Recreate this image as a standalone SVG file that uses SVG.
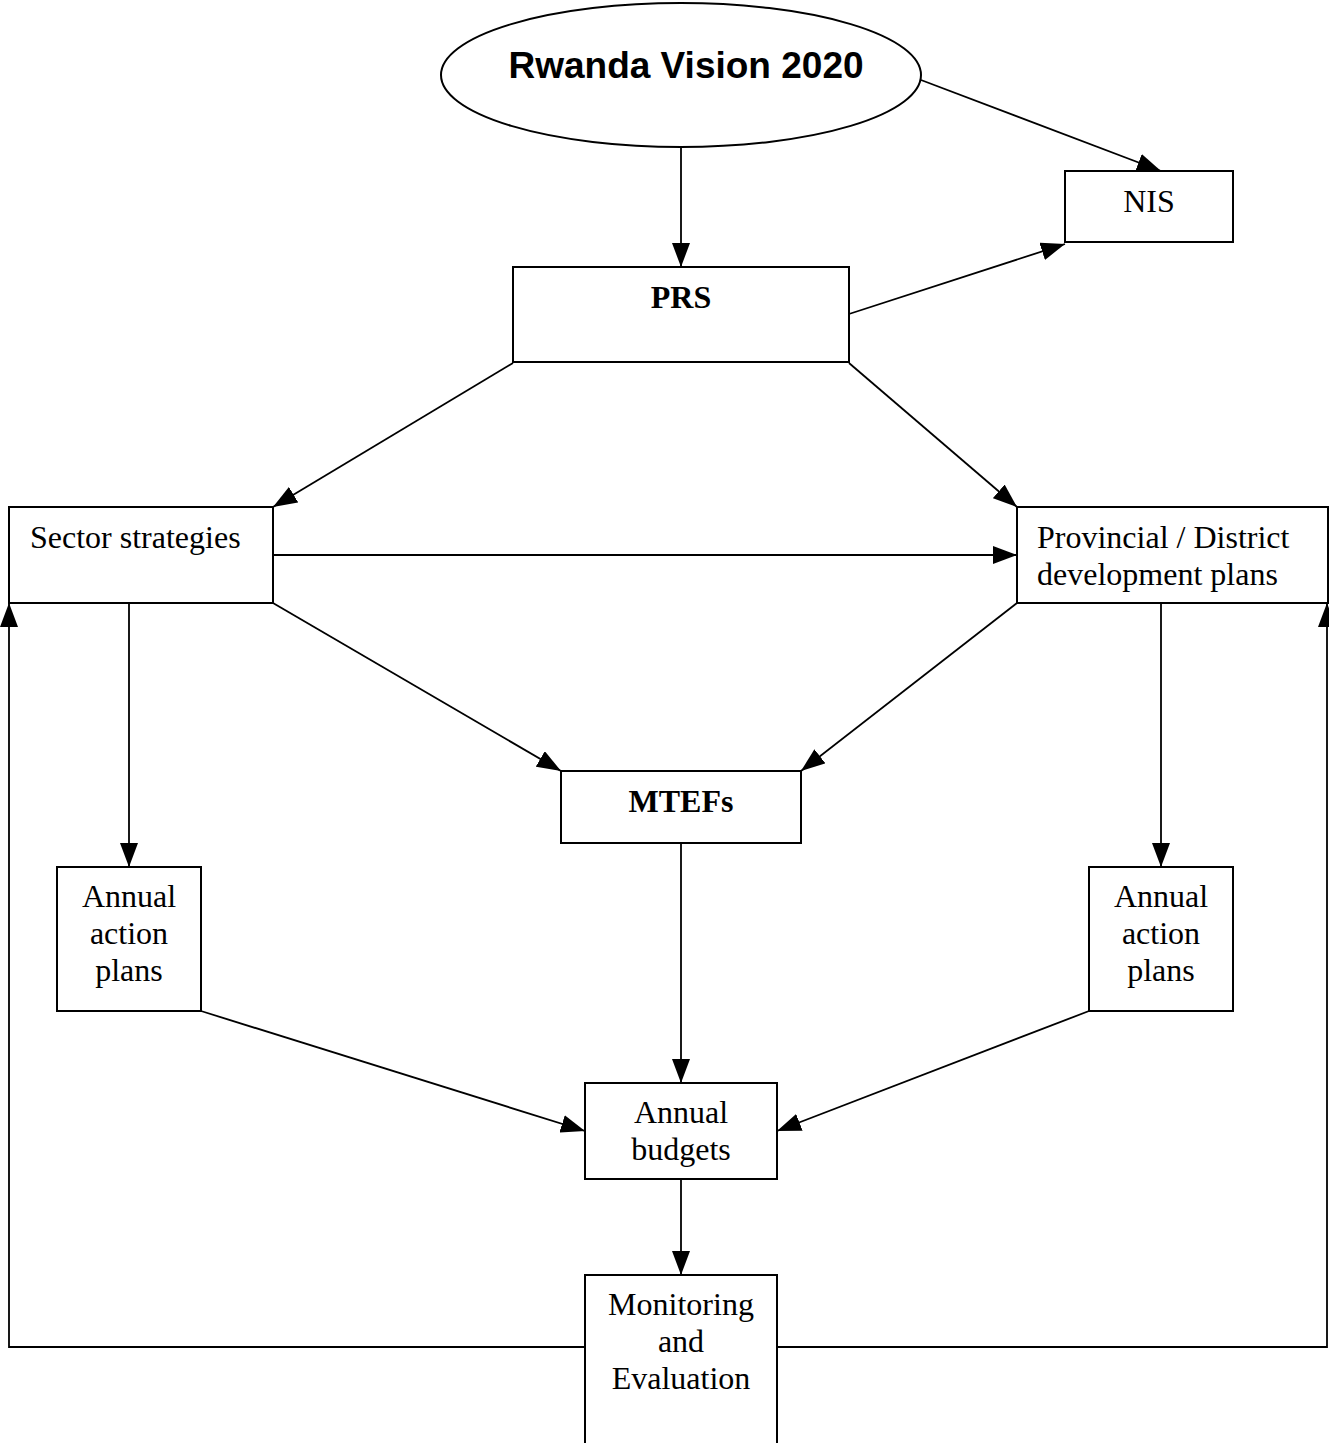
<svg xmlns="http://www.w3.org/2000/svg" width="1329" height="1443" viewBox="0 0 1329 1443">
<style>
.box{fill:#fff;stroke:#000;stroke-width:2}
.t{font-family:"Liberation Serif","Times New Roman",serif;font-size:32px;fill:#000}
.c{text-anchor:middle}
.b{font-weight:bold}
.h{font-family:"Liberation Sans",Arial,sans-serif;font-size:37px;font-weight:bold;text-anchor:middle;fill:#000}
.ln{fill:none;stroke:#000;stroke-width:1.8}
</style>
<defs>
<marker id="ah" viewBox="0 0 24 18" refX="24" refY="9" markerWidth="24" markerHeight="18" markerUnits="userSpaceOnUse" orient="auto">
<path d="M0,0 L24,9 L0,18 Z" fill="#000"/>
</marker>
</defs>
<rect width="1329" height="1443" fill="#fff"/>
<g id="connectors">
<line class="ln" x1="681" y1="147" x2="681" y2="267" marker-end="url(#ah)"/>
<line class="ln" x1="921" y1="80" x2="1161" y2="171" marker-end="url(#ah)"/>
<line class="ln" x1="849" y1="314" x2="1065" y2="244" marker-end="url(#ah)"/>
<line class="ln" x1="513" y1="363" x2="273" y2="507" marker-end="url(#ah)"/>
<line class="ln" x1="849" y1="363" x2="1017" y2="507" marker-end="url(#ah)"/>
<line class="ln" x1="273" y1="555" x2="1017" y2="555" marker-end="url(#ah)"/>
<line class="ln" x1="273" y1="603" x2="561" y2="771" marker-end="url(#ah)"/>
<line class="ln" x1="1017" y1="603" x2="801" y2="771" marker-end="url(#ah)"/>
<line class="ln" x1="129" y1="603" x2="129" y2="867" marker-end="url(#ah)"/>
<line class="ln" x1="1161" y1="603" x2="1161" y2="867" marker-end="url(#ah)"/>
<line class="ln" x1="681" y1="843" x2="681" y2="1083" marker-end="url(#ah)"/>
<line class="ln" x1="201" y1="1011" x2="585" y2="1131" marker-end="url(#ah)"/>
<line class="ln" x1="1089" y1="1011" x2="777" y2="1131" marker-end="url(#ah)"/>
<line class="ln" x1="681" y1="1179" x2="681" y2="1275" marker-end="url(#ah)"/>
<polyline class="ln" points="585,1347 9,1347 9,603" marker-end="url(#ah)"/>
<polyline class="ln" points="777,1347 1327,1347 1327,603" marker-end="url(#ah)"/>
</g>
<g id="vision">
<ellipse class="box" cx="681" cy="75" rx="240" ry="72"/>
<text class="h" x="686" y="78">Rwanda Vision 2020</text>
</g>
<g id="nis">
<rect class="box" x="1065" y="171" width="168" height="71"/>
<text class="t c" x="1149" y="212">NIS</text>
</g>
<g id="prs">
<rect class="box" x="513" y="267" width="336" height="95"/>
<text class="t c b" x="681" y="308">PRS</text>
</g>
<g id="sector">
<rect class="box" x="9" y="507" width="264" height="96"/>
<text class="t" x="30" y="548">Sector strategies</text>
</g>
<g id="provincial">
<rect class="box" x="1017" y="507" width="311" height="96"/>
<text class="t" x="1037" y="548">Provincial / District</text>
<text class="t" x="1037" y="585">development plans</text>
</g>
<g id="mtefs">
<rect class="box" x="561" y="771" width="240" height="72"/>
<text class="t c b" x="681" y="812">MTEFs</text>
</g>
<g id="aap-left">
<rect class="box" x="57" y="867" width="144" height="144"/>
<text class="t c" x="129" y="907">Annual</text>
<text class="t c" x="129" y="944">action</text>
<text class="t c" x="129" y="981">plans</text>
</g>
<g id="aap-right">
<rect class="box" x="1089" y="867" width="144" height="144"/>
<text class="t c" x="1161" y="907">Annual</text>
<text class="t c" x="1161" y="944">action</text>
<text class="t c" x="1161" y="981">plans</text>
</g>
<g id="budgets">
<rect class="box" x="585" y="1083" width="192" height="96"/>
<text class="t c" x="681" y="1123">Annual</text>
<text class="t c" x="681" y="1160">budgets</text>
</g>
<g id="me">
<rect class="box" x="585" y="1275" width="192" height="170"/>
<text class="t c" x="681" y="1315">Monitoring</text>
<text class="t c" x="681" y="1352">and</text>
<text class="t c" x="681" y="1389">Evaluation</text>
</g>
</svg>
